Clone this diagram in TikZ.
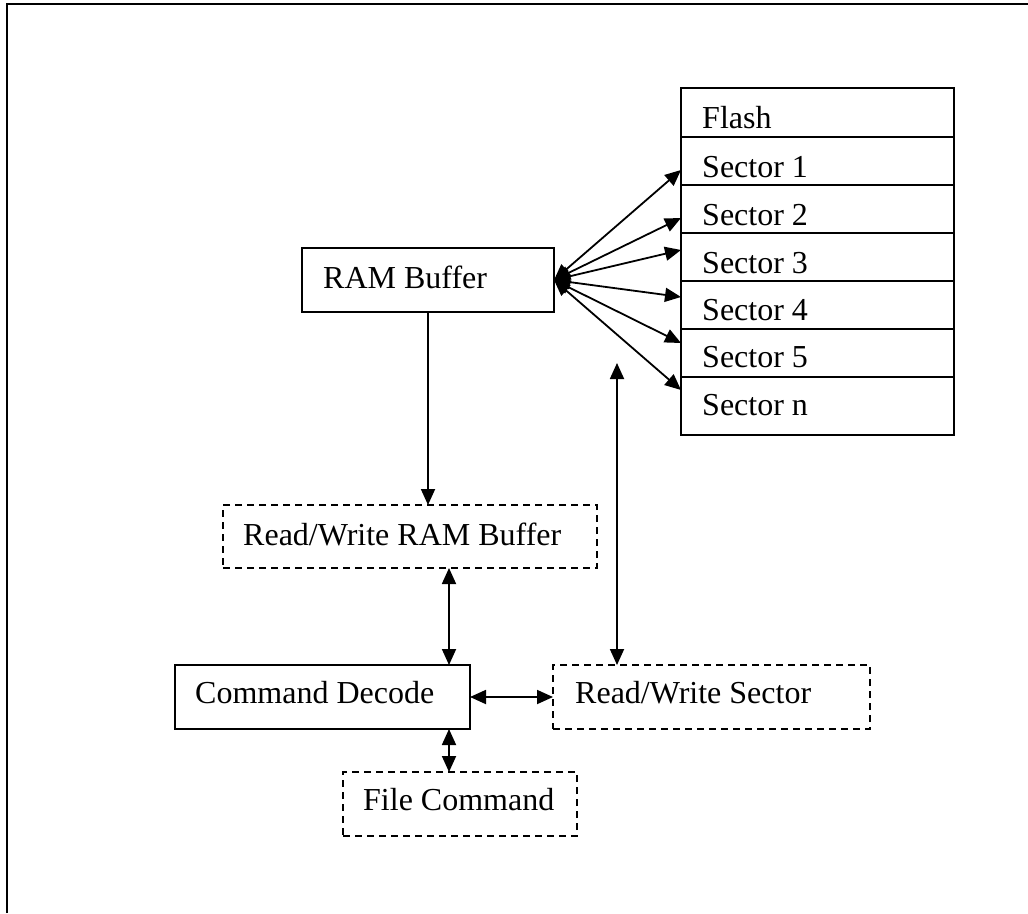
\documentclass[tikz,border=0pt]{standalone}
\usepackage{fontspec}
\setmainfont{Liberation Serif}
\usetikzlibrary{arrows.meta,calc}
\begin{document}
\begin{tikzpicture}[x=1pt,y=-1pt,
  box/.style={draw,line width=1.8pt,rectangle,inner sep=0pt,outer sep=0pt,anchor=north west},
  dbox/.style={box,dash pattern=on 7pt off 5pt},
  lbl/.style={anchor=base west,inner sep=0pt,font=\fontsize{32}{38}\selectfont},
  tip/.tip={Triangle[length=16pt,width=14pt]},
  conn/.style={line width=1.8pt,-tip},
  dconn/.style={line width=1.8pt,tip-tip}]
\useasboundingbox (0,0) rectangle (1028,913);
% outer frame
\draw[line width=2.4pt] (7,913) -- (7,4) -- (1028,4);
% boxes
\node[box,minimum width=252pt,minimum height=64pt] (ram) at (302,248) {};
\node[lbl] (ramt) at (323,288) {RAM Buffer};
\node[dbox,minimum width=374pt,minimum height=63pt] (rwr) at (223,505) {};
\node[lbl] (rwrt) at (243,545) {Read/Write RAM Buffer};
\node[box,minimum width=295pt,minimum height=64pt] (cd) at (175,665) {};
\node[lbl] (cdt) at (195,703) {Command Decode};
\node[dbox,minimum width=317pt,minimum height=64pt] (rws) at (553,665) {};
\node[lbl] (rwst) at (575,703) {Read/Write Sector};
\node[dbox,minimum width=234pt,minimum height=64pt] (fc) at (343,772) {};
\node[lbl] (fct) at (363,810) {File Command};
% flash table
\node[box,minimum width=273pt,minimum height=49pt] (fl) at (681,88) {};
\node[box,minimum width=273pt,minimum height=48pt] (s1) at (681,137) {};
\node[box,minimum width=273pt,minimum height=48pt] (s2) at (681,185) {};
\node[box,minimum width=273pt,minimum height=48pt] (s3) at (681,233) {};
\node[box,minimum width=273pt,minimum height=48pt] (s4) at (681,281) {};
\node[box,minimum width=273pt,minimum height=48pt] (s5) at (681,329) {};
\node[box,minimum width=273pt,minimum height=58pt] (sn) at (681,377) {};
\node[lbl] (flt) at (702,128) {Flash};
\node[lbl] (s1t) at (702,177) {Sector 1};
\node[lbl] (s2t) at (702,225) {Sector 2};
\node[lbl] (s3t) at (702,273) {Sector 3};
\node[lbl] (s4t) at (702,320) {Sector 4};
\node[lbl] (s5t) at (702,367) {Sector 5};
\node[lbl] (snt) at (702,415) {Sector n};
% fan arrow targets on the table's left edge
\coordinate (t1) at (681,170);
\coordinate (t2) at (681,218);
\coordinate (t3) at (681,250);
\coordinate (t4) at (681,297);
\coordinate (t5) at (681,343);
\coordinate (t6) at (681,390);
\coordinate (o) at (554,280);
\foreach \t in {t1,t2,t3,t4,t5,t6} \draw[dconn] (o) -- (\t);
% connectors
\draw[conn] (ram.south) -- (ram.south |- rwr.north);
\coordinate (vx) at (449,0);
\draw[dconn] (rwr.south -| vx) -- (cd.north -| vx);
\draw[dconn] (cd.south -| vx) -- (fc.north -| vx);
\draw[dconn] (cd.east) -- (rws.west);
\coordinate (up) at (617,363);
\draw[dconn] (up) -- (rws.north -| up);
\end{tikzpicture}
\end{document}
